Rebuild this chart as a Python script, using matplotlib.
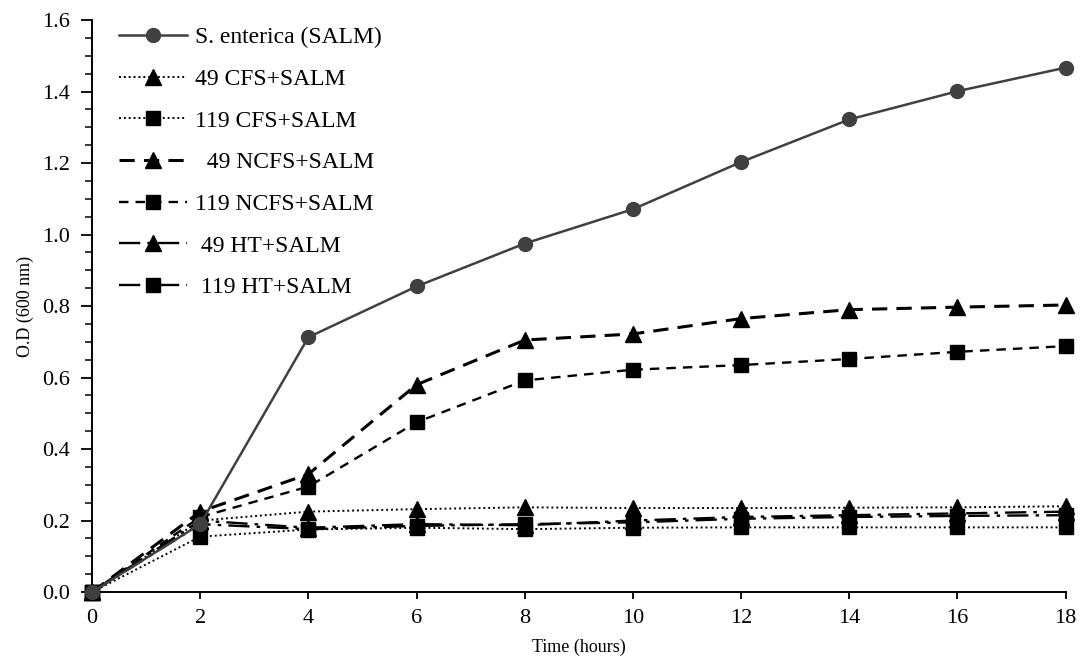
import matplotlib.pyplot as plt
from matplotlib.ticker import MultipleLocator
import numpy as np

plt.rcParams['font.family'] = ['Liberation Serif', 'DejaVu Serif']

# Data
hours = [0, 2, 4, 6, 8, 10, 12, 14, 16, 18]
salm = [0.0, 0.19, 0.713, 0.855, 0.975, 1.071, 1.203, 1.322, 1.401, 1.467]
cfs_49 = [0.0, 0.20, 0.225, 0.232, 0.237, 0.235, 0.235, 0.236, 0.237, 0.240]
cfs_119 = [0.0, 0.155, 0.175, 0.180, 0.176, 0.180, 0.181, 0.181, 0.181, 0.181]
ncfs_49 = [0.0, 0.225, 0.330, 0.580, 0.705, 0.722, 0.765, 0.790, 0.797, 0.803]
ncfs_119 = [0.0, 0.210, 0.295, 0.475, 0.592, 0.622, 0.635, 0.652, 0.672, 0.688]
ht_49 = [0.0, 0.200, 0.180, 0.190, 0.187, 0.200, 0.210, 0.215, 0.220, 0.225]
ht_119 = [0.0, 0.190, 0.176, 0.185, 0.190, 0.195, 0.205, 0.210, 0.213, 0.215]

labels = ['S. enterica (SALM)', '49 CFS+SALM', '119 CFS+SALM',
          '  49 NCFS+SALM', '119 NCFS+SALM', ' 49 HT+SALM', ' 119 HT+SALM']

fig = plt.figure(figsize=(10.83, 6.69), dpi=100)
ax = fig.add_axes([0.085, 0.115, 0.899, 0.855])

dot = (0, (1, 1.5))
htdash = (0, (9, 3, 1.5, 3))
ax.plot(hours, salm, color='#404040', lw=1.8, marker='o', ms=10, label=labels[0], clip_on=False, zorder=5)
ax.plot(hours, cfs_49, color='black', lw=1.4, ls=dot, marker='^', ms=11, label=labels[1], clip_on=False)
ax.plot(hours, cfs_119, color='black', lw=1.4, ls=dot, marker='s', ms=9.5, label=labels[2], clip_on=False)
ax.plot(hours, ncfs_49, color='black', lw=2.2, ls=(0, (5, 3)), marker='^', ms=11, label=labels[3], clip_on=False)
ax.plot(hours, ncfs_119, color='black', lw=1.7, ls=(0, (4, 3)), marker='s', ms=9.5, label=labels[4], clip_on=False)
ax.plot(hours, ht_49, color='black', lw=1.7, ls=htdash, marker='^', ms=11, label=labels[5], clip_on=False)
ax.plot(hours, ht_119, color='black', lw=1.7, ls=htdash, marker='s', ms=9.5, label=labels[6], clip_on=False)

ax.set_xlim(0, 18)
ax.set_ylim(0, 1.6)
ax.set_xticks(np.arange(0, 19, 2))
ax.yaxis.set_major_locator(MultipleLocator(0.2))
ax.yaxis.set_minor_locator(MultipleLocator(0.05))
ax.yaxis.set_major_formatter(plt.FormatStrFormatter('%.1f'))
ax.tick_params(axis='both', which='major', direction='out', width=1.3, labelsize=16, colors='black')
ax.tick_params(axis='y', which='major', length=8, pad=8)
ax.tick_params(axis='x', which='major', length=5, pad=7)
ax.tick_params(axis='y', which='minor', direction='out', length=5, width=1.1)

for side in ['top', 'right']:
    ax.spines[side].set_visible(False)
for side in ['left', 'bottom']:
    ax.spines[side].set_linewidth(1.4)

ax.set_xlabel('Time (hours)', fontsize=13, labelpad=8)
ax.set_ylabel('O.D (600 nm)', fontsize=13, labelpad=6)

ax.legend(loc='upper left', bbox_to_anchor=(119 / 1083, 1 - 27 / 669), bbox_transform=fig.transFigure,
          frameon=False, fontsize=17, borderpad=0, borderaxespad=0,
          handlelength=2.9, labelspacing=0.85, handletextpad=0.3)

fig.savefig('out.png', dpi=100)
